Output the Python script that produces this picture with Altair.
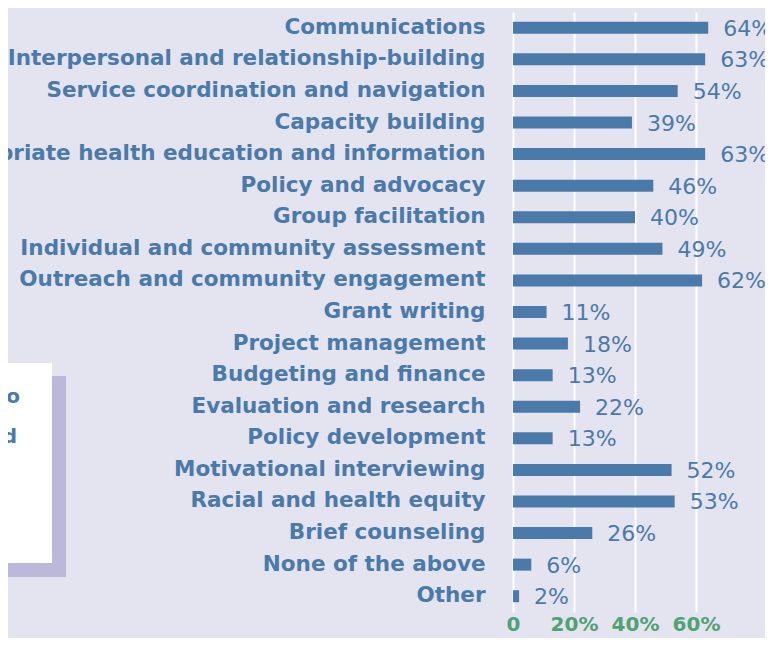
import altair as alt
import pandas as pd

categories = [
    "Communications",
    "Interpersonal and relationship-building",
    "Service coordination and navigation",
    "Capacity building",
    "Culturally appropriate health education and information",
    "Policy and advocacy",
    "Group facilitation",
    "Individual and community assessment",
    "Outreach and community engagement",
    "Grant writing",
    "Project management",
    "Budgeting and finance",
    "Evaluation and research",
    "Policy development",
    "Motivational interviewing",
    "Racial and health equity",
    "Brief counseling",
    "None of the above",
    "Other",
]
values = [64, 63, 54, 39, 63, 46, 40, 49, 62, 11, 18, 13, 22, 13, 52, 53, 26, 6, 2]
x_ticks = [0, 20, 40, 60]
box_words = ["to", "d"]

BG = "#e4e3f0"
BLUE = "#4a7aa9"
GREEN = "#4fa273"
SHADOW = "#bbb8da"

df = pd.DataFrame({"skill": categories, "pct": values})
df["label"] = df["pct"].astype(str) + "%"

W, H = 252, 600

y_enc = alt.Y(
    "skill:N",
    sort=categories,
    scale=alt.Scale(paddingInner=0, paddingOuter=0),
    axis=alt.Axis(
        title=None, domain=False, ticks=False, grid=False,
        labelFont="DejaVu Sans", labelFontWeight="bold", labelFontSize=21.5,
        labelColor=BLUE, labelPadding=28, labelLimit=0,
    ),
)
x_enc = alt.X(
    "pct:Q",
    scale=alt.Scale(domain=[0, W / 3.05], nice=False),
    axis=alt.Axis(
        title=None, values=x_ticks, domain=False, ticks=False,
        grid=True, gridColor="white", gridWidth=2,
        labelExpr="datum.value == 0 ? '0' : datum.value + '%'",
        labelFont="DejaVu Sans", labelFontWeight="bold", labelFontSize=20,
        labelColor=GREEN, labelPadding=2, labelFlush=False,
    ),
)

base = alt.Chart(df)
bars = base.mark_bar(size=12, color=BLUE).encode(x=x_enc, y=y_enc)
texts = base.mark_text(
    align="left", baseline="middle", dx=15, dy=1,
    font="DejaVu Sans", fontSize=22, color=BLUE,
).encode(x="pct:Q", y=alt.Y("skill:N", sort=categories), text="label:N")

one = pd.DataFrame({"k": [0]})
shadow = alt.Chart(one).mark_rect(color=SHADOW).encode(
    x=alt.value(-520), x2=alt.value(-447), y=alt.value(364), y2=alt.value(565)
)
box = alt.Chart(one).mark_rect(color="white").encode(
    x=alt.value(-520), x2=alt.value(-461), y=alt.value(351), y2=alt.value(551)
)
box_text1 = alt.Chart(pd.DataFrame({"w": [box_words[0]]})).mark_text(
    align="right", baseline="middle", font="DejaVu Sans", fontWeight="bold",
    fontSize=20, color=BLUE,
).encode(x=alt.value(-493), y=alt.value(385), text="w:N")
box_text2 = alt.Chart(pd.DataFrame({"w": [box_words[1]]})).mark_text(
    align="right", baseline="middle", font="DejaVu Sans", fontWeight="bold",
    fontSize=20, color=BLUE,
).encode(x=alt.value(-496), y=alt.value(425), text="w:N")

chart = alt.layer(shadow, box, box_text1, box_text2, bars, texts).properties(
    width=W, height=H,
    autosize=alt.AutoSizeParams(type="none"),
    padding={"left": 505, "top": 4, "right": 0, "bottom": 26},
    background=BG,
).configure_view(stroke=None)

chart.save("out.html", embed_options={"renderer": "svg", "actions": False})
